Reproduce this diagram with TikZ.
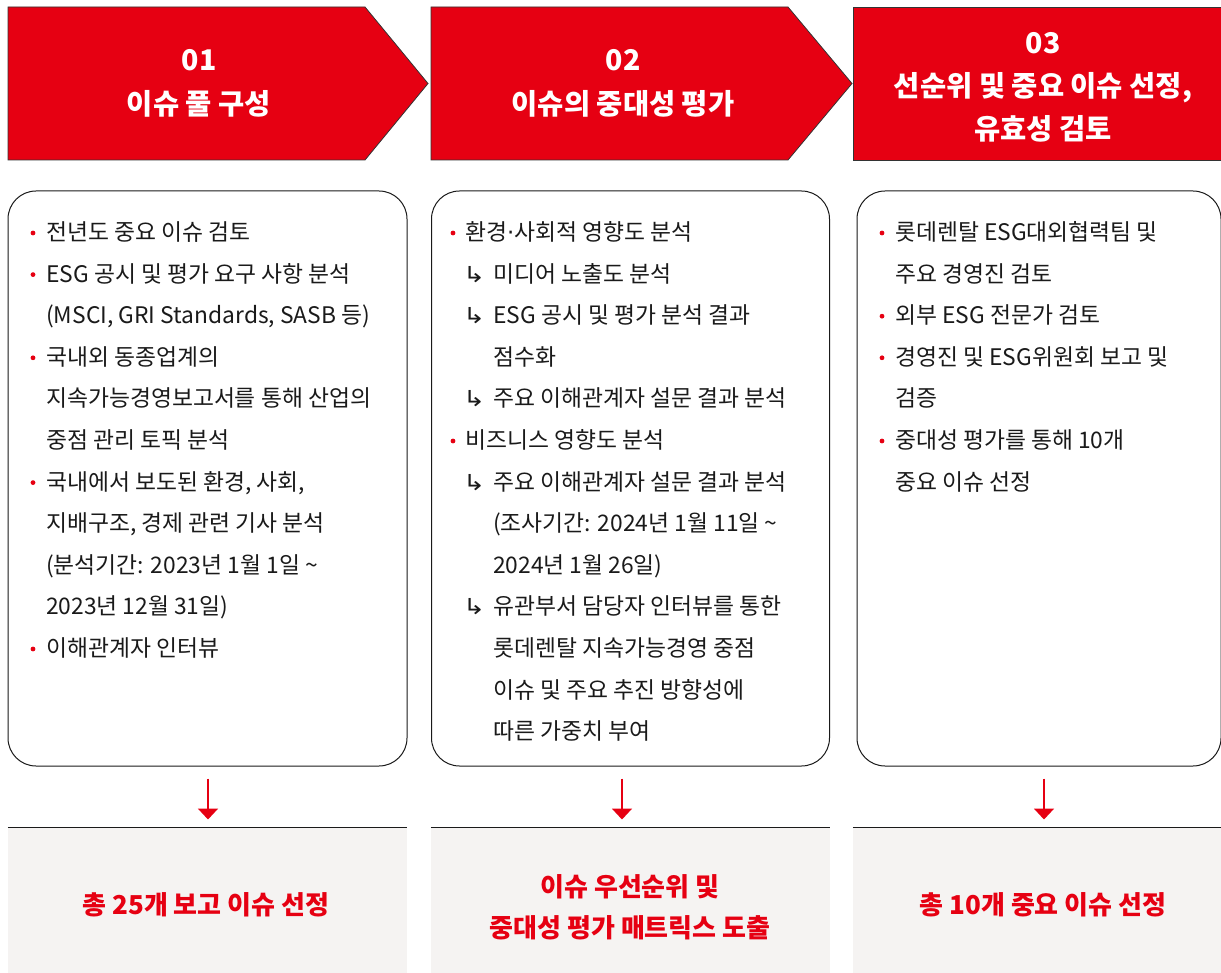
\documentclass[tikz,border=0pt]{standalone}
\usepackage{fontspec}
\usepackage{graphicx}
\setmainfont{Noto Sans CJK KR}
\newfontfamily\symf{DejaVu Sans}
\usetikzlibrary{arrows.meta}
\definecolor{lred}{HTML}{E60012}
\definecolor{ink}{HTML}{1A1A1A}
\definecolor{pale}{HTML}{F5F3F2}
\definecolor{edge}{HTML}{333333}
\newcommand{\sub}[1]{\makebox[27pt][l]{\hspace{-3pt}\symf\fontsize{22pt}{22pt}\selectfont\scalebox{1.2}[1]{↳}}#1}
\tikzset{
  hdr/.style={fill=lred,draw=edge,line width=0.8pt},
  hdrtxt/.style={text=white,font=\fontsize{28.5pt}{43pt}\selectfont\bfseries,align=center,inner sep=0pt},
  card/.style={draw=ink,line width=1pt,rounded corners=28pt,fill=white,inner sep=0pt},
  txt/.style={anchor=base west,text=ink,font=\fontsize{22.8pt}{22.8pt}\selectfont,inner sep=0pt},
  bot/.style={fill=pale,inner sep=0pt},
  bottxt/.style={text=lred,font=\fontsize{26pt}{41pt}\selectfont\bfseries,align=center,inner sep=0pt},
  arr/.style={draw=lred,line width=2pt,-{Triangle[width=20pt,length=11pt]}},
  dot/.style={fill=lred}
}
\begin{document}
\begin{tikzpicture}[x=1pt,y=-1pt]
\useasboundingbox (0,0) rectangle (1221,973);
% headers
\path[hdr] (8,7) -- (365,7) -- (428,83.5) -- (365,160) -- (8,160) -- cycle;
\path[hdr] (431,7) -- (788,7) -- (852,83.5) -- (788,160) -- (431,160) -- cycle;
\path[hdr] (853,7) -- (1222,7) -- (1222,160) -- (853,160) -- cycle;
\node[hdrtxt] (h1n) at (199,60) {01};
\node[hdrtxt] (h1t) at (199,104) {이슈 풀 구성};
\node[hdrtxt] (h2n) at (623,60) {02};
\node[hdrtxt] (h2t) at (623,104) {이슈의 중대성 평가};
\node[hdrtxt] (h3n) at (1043,43) {03};
\node[hdrtxt] (h3t) at (1043,107) {선순위 및 중요 이슈 선정,\\유효성 검토};
% cards
\node[card,minimum width=399pt,minimum height=575pt] (box1) at (207.5,478.5) {};
\node[card,minimum width=398pt,minimum height=575pt] (box2) at (630.5,478.5) {};
\node[card,minimum width=364pt,minimum height=575pt] (box3) at (1039,478.5) {};
% box1 text
\foreach \k in {0,1,3,6,10} \fill[dot] (33,233+41.6*\k) circle (2.4pt);
\node[txt] (a0) at (46,240.5) {전년도 중요 이슈 검토};
\node[txt] (a1) at (46,240.5+41.6) {ESG 공시 및 평가 요구 사항 분석};
\node[txt] (a2) at (46,240.5+41.6*2) {(MSCI, GRI Standards, SASB 등)};
\node[txt] (a3) at (46,240.5+41.6*3) {국내외 동종업계의};
\node[txt] (a4) at (46,240.5+41.6*4) {지속가능경영보고서를 통해 산업의};
\node[txt] (a5) at (46,240.5+41.6*5) {중점 관리 토픽 분석};
\node[txt] (a6) at (46,240.5+41.6*6) {국내에서 보도된 환경, 사회,};
\node[txt] (a7) at (46,240.5+41.6*7) {지배구조, 경제 관련 기사 분석};
\node[txt] (a8) at (46,240.5+41.6*8) {(분석기간: 2023년 1월 1일 \textasciitilde};
\node[txt] (a9) at (46,240.5+41.6*9) {2023년 12월 31일)};
\node[txt] (a10) at (46,240.5+41.6*10) {이해관계자 인터뷰};
% box2 text
\foreach \k in {0,5} \fill[dot] (453,233+41.6*\k) circle (2.4pt);
\node[txt] (b0) at (465,240.5) {환경{\symf ·}사회적 영향도 분석};
\node[txt] (b1) at (466,240.5+41.6) {\sub{미디어 노출도 분석}};
\node[txt] (b2) at (466,240.5+41.6*2) {\sub{ESG 공시 및 평가 분석 결과}};
\node[txt] (b3) at (493,240.5+41.6*3) {점수화};
\node[txt] (b4) at (466,240.5+41.6*4) {\sub{주요 이해관계자 설문 결과 분석}};
\node[txt] (b5) at (465,240.5+41.6*5) {비즈니스 영향도 분석};
\node[txt] (b6) at (466,240.5+41.6*6) {\sub{주요 이해관계자 설문 결과 분석}};
\node[txt] (b7) at (493,240.5+41.6*7) {(조사기간: 2024년 1월 11일 \textasciitilde};
\node[txt] (b8) at (493,240.5+41.6*8) {2024년 1월 26일)};
\node[txt] (b9) at (466,240.5+41.6*9) {\sub{유관부서 담당자 인터뷰를 통한}};
\node[txt] (b10) at (493,240.5+41.6*10) {롯데렌탈 지속가능경영 중점};
\node[txt] (b11) at (493,240.5+41.6*11) {이슈 및 주요 추진 방향성에};
\node[txt] (b12) at (493,240.5+41.6*12) {따른 가중치 부여};
% box3 text
\foreach \k in {0,2,3,5} \fill[dot] (882,233+41.6*\k) circle (2.4pt);
\node[txt] (c0) at (895,240.5) {롯데렌탈 ESG대외협력팀 및};
\node[txt] (c1) at (895,240.5+41.6) {주요 경영진 검토};
\node[txt] (c2) at (895,240.5+41.6*2) {외부 ESG 전문가 검토};
\node[txt] (c3) at (895,240.5+41.6*3) {경영진 및 ESG위원회 보고 및};
\node[txt] (c4) at (895,240.5+41.6*4) {검증};
\node[txt] (c5) at (895,240.5+41.6*5) {중대성 평가를 통해 10개};
\node[txt] (c6) at (895,240.5+41.6*6) {중요 이슈 선정};
% bottom boxes
\node[bot,minimum width=399pt,minimum height=146pt] (bot1) at (207.5,901) {};
\node[bot,minimum width=399pt,minimum height=146pt] (bot2) at (630.5,901) {};
\node[bot,minimum width=369pt,minimum height=146pt] (bot3) at (1037.5,901) {};
\foreach \b in {bot1,bot2,bot3} \draw[ink,line width=1.2pt] (\b.north west) -- (\b.north east);
\node[bottxt] (r1) at (206,905) {총 25개 보고 이슈 선정};
\node[bottxt] (r2) at (630,907) {이슈 우선순위 및\\중대성 평가 매트릭스 도출};
\node[bottxt] (r3) at (1043,905) {총 10개 중요 이슈 선정};
% arrows
\draw[arr] (box1.south) ++(0.5,12) -- ++(0,41);
\draw[arr] (box2.south) ++(-8.5,12) -- ++(0,41);
\draw[arr] (box3.south) ++(5,12) -- ++(0,41);
\end{tikzpicture}
\end{document}
